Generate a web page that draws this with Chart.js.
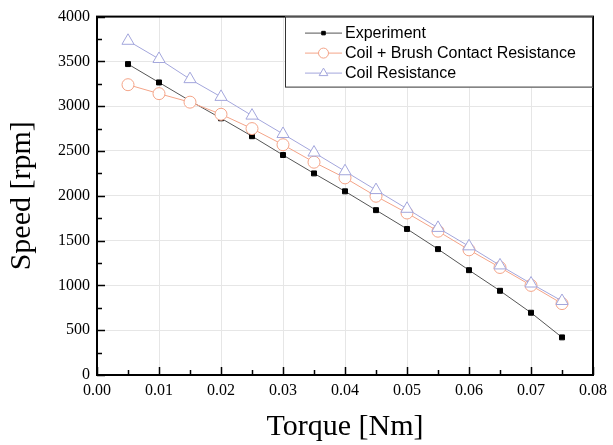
<!DOCTYPE html>
<html>
<head>
<meta charset="utf-8">
<script src="https://cdn.jsdelivr.net/npm/chart.js@4.4.1/dist/chart.umd.min.js"></script>
<style>
  html, body { margin: 0; padding: 0; background: #fff; }
  #wrap { width: 613px; height: 445px; }
</style>
</head>
<body>
<div id="wrap"><canvas id="speedChart" width="613" height="445"></canvas></div>
<script>
// torque points (Nm)
const torque = [0.005, 0.01, 0.015, 0.02, 0.025, 0.03, 0.035, 0.04, 0.045, 0.05, 0.055, 0.06, 0.065, 0.07, 0.075];

// speed (rpm)
const experiment = [3470, 3265, 3060, 2865, 2665, 2455, 2250, 2050, 1840, 1630, 1405, 1170, 940, 695, 420];
const coilBrush = [3240, 3140, 3045, 2910, 2750, 2570, 2375, 2200, 1995, 1808, 1605, 1397, 1200, 1000, 797];
const coilOnly = [3730, 3527, 3302, 3104, 2895, 2690, 2483, 2274, 2064, 1855, 1642, 1436, 1223, 1021, 826];

const seriesLabels = ["Experiment", "Coil + Brush Contact Resistance", "Coil Resistance"];

const toPoints = (ys) => torque.map((x, i) => ({ x: x, y: ys[i] }));

const SERIF = "'Liberation Serif', 'Times New Roman', serif";
const SANS = "'Liberation Sans', Arial, sans-serif";

// inward ticks, frame and legend box
const framePlugin = {
  id: "frame",
  afterDraw(chart) {
    const ctx = chart.ctx;
    const a = chart.chartArea;
    const xs = chart.scales.x;
    const ys = chart.scales.y;
    ctx.save();
    ctx.strokeStyle = "#000";
    ctx.lineWidth = 1.5;
    ctx.beginPath();
    // x ticks, major every 0.01, minor in between
    for (let i = 0; i <= 16; i++) {
      const px = Math.round(xs.getPixelForValue(i * 0.005)) + 0.5;
      const len = i % 2 === 0 ? 8 : 5;
      ctx.moveTo(px, a.bottom);
      ctx.lineTo(px, a.bottom - len);
    }
    // y ticks, major every 500, minor in between
    for (let i = 0; i <= 16; i++) {
      const py = Math.round(ys.getPixelForValue(i * 250)) + 0.5;
      const len = i % 2 === 0 ? 8 : 5;
      ctx.moveTo(a.left, py);
      ctx.lineTo(a.left + len, py);
    }
    ctx.stroke();

    ctx.lineWidth = 2;
    ctx.strokeRect(a.left, a.top, a.right - a.left, a.bottom - a.top);

    // legend
    const bx = 285, by = a.top, bw = a.right - bx, bh = 71;
    ctx.fillStyle = "#fff";
    ctx.fillRect(bx, by, bw, bh);
    ctx.lineWidth = 1;
    ctx.strokeStyle = "#333";
    ctx.strokeRect(bx + 0.5, by + 0.5, bw - 1, bh - 1);
    ctx.font = "16px " + SANS;
    ctx.textBaseline = "middle";
    chart.data.datasets.forEach((ds, i) => {
      const y = by + 16 + i * 20;
      ctx.strokeStyle = ds.borderColor;
      ctx.lineWidth = 1;
      ctx.beginPath();
      ctx.moveTo(305, y + 0.5);
      ctx.lineTo(342, y + 0.5);
      ctx.stroke();
      ctx.fillStyle = ds.pointBackgroundColor;
      ctx.strokeStyle = ds.pointBorderColor;
      Chart.helpers.drawPoint(ctx, {
        pointStyle: ds.pointStyle,
        radius: ds.legendRadius,
        borderWidth: 1
      }, 323.5, y + 0.5);
      ctx.fillStyle = "#000";
      ctx.fillText(ds.label, 345, y + 1);
    });
    ctx.restore();
  }
};

const chart = new Chart(document.getElementById("speedChart"), {
  type: "line",
  data: {
    datasets: [
      {
        label: seriesLabels[0],
        data: toPoints(experiment),
        borderColor: "#555555",
        borderWidth: 1,
        pointStyle: "rect",
        pointRadius: 3.5,
        legendRadius: 2.5,
        pointBackgroundColor: "#000",
        pointBorderColor: "#000",
        pointBorderWidth: 1,
        order: 3
      },
      {
        label: seriesLabels[1],
        data: toPoints(coilBrush),
        borderColor: "#f4a488",
        borderWidth: 1,
        pointStyle: "circle",
        pointRadius: 6,
        legendRadius: 5,
        pointBackgroundColor: "#fff",
        pointBorderColor: "#f4a488",
        pointBorderWidth: 1,
        order: 2
      },
      {
        label: seriesLabels[2],
        data: toPoints(coilOnly),
        borderColor: "#a3a6dc",
        borderWidth: 1,
        pointStyle: "triangle",
        pointRadius: 7,
        legendRadius: 5,
        pointBackgroundColor: "#fff",
        pointBorderColor: "#a3a6dc",
        pointBorderWidth: 1,
        order: 1
      }
    ]
  },
  options: {
    responsive: false,
    animation: false,
    layout: { padding: { top: 12, right: 15, left: 0, bottom: 0 } },
    plugins: {
      legend: { display: false },
      tooltip: { enabled: false }
    },
    scales: {
      x: {
        type: "linear",
        min: 0,
        max: 0.08,
        afterFit: (s) => { s.height = 70; },
        ticks: {
          stepSize: 0.01,
          padding: 6,
          color: "#000",
          font: { family: SERIF, size: 16 },
          callback: (v) => v.toFixed(2)
        },
        grid: { color: "#e6e6e6", lineWidth: 1, drawTicks: false },
        border: { display: false },
        title: {
          display: true,
          text: "Torque [Nm]",
          color: "#000",
          font: { family: SERIF, size: 30 },
          padding: { top: 6, bottom: 0 }
        }
      },
      y: {
        min: 0,
        max: 4000,
        afterFit: (s) => { s.width = 97; },
        ticks: {
          stepSize: 500,
          padding: 7,
          color: "#000",
          font: { family: SERIF, size: 16 },
          callback: (v) => String(v)
        },
        grid: { color: "#e6e6e6", lineWidth: 1, drawTicks: false },
        border: { display: false },
        title: {
          display: true,
          text: "Speed [rpm]",
          color: "#000",
          font: { family: SERIF, size: 30 },
          padding: { top: 4, bottom: 0 }
        }
      }
    }
  },
  plugins: [framePlugin]
});
</script>
</body>
</html>
